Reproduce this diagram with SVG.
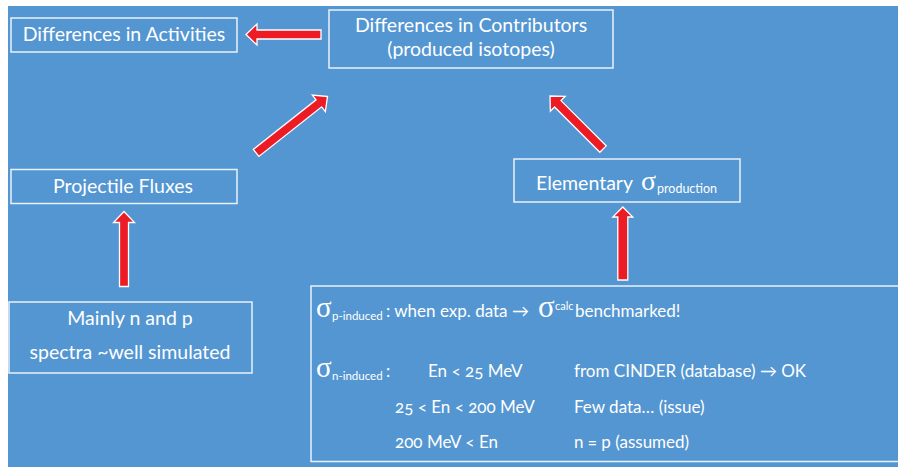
<svg xmlns="http://www.w3.org/2000/svg" width="898" height="467" viewBox="0 0 898 467">
<style>
.bg{fill:#5496D1}
.box{fill:none;stroke:#E8F1FA;stroke-width:1.5}
.t{font-family:Lato,"Open Sans","Liberation Sans",sans-serif;fill:#FFFFFF;font-size:19.5px;font-variant-numeric:oldstyle-nums;font-feature-settings:"onum" 1}
.s{font-family:Lato,"Open Sans","Liberation Sans",sans-serif;fill:#FFFFFF;font-size:17px;font-variant-numeric:oldstyle-nums;font-feature-settings:"onum" 1}
.sig{font-family:"Liberation Serif","DejaVu Serif",serif;font-size:29px}
.sub{font-size:11.5px}
.arrow{fill:#ED1C24;stroke:#FFFFFF;stroke-width:1.3;stroke-linejoin:miter}
</style>
<rect class="bg" x="8" y="6" width="890" height="461"/>

<g id="connectors">
<polygon class="arrow" transform="translate(246,34.5) rotate(180)" points="0,0 -11,-10.5 -11,-4.5 -75,-4.5 -75,4.5 -11,4.5 -11,10.5"/>
<polygon class="arrow" transform="translate(327.5,96.5) rotate(-38.3)" points="0,0 -11,-10.5 -11,-4.5 -91,-4.5 -91,4.5 -11,4.5 -11,10.5"/>
<polygon class="arrow" transform="translate(550,96) rotate(-135)" points="0,0 -11,-10.5 -11,-4.5 -75,-4.5 -75,4.5 -11,4.5 -11,10.5"/>
<polygon class="arrow" transform="translate(124,211.5) rotate(-90)" points="0,0 -11,-10.5 -11,-4.5 -75,-4.5 -75,4.5 -11,4.5 -11,10.5"/>
<polygon class="arrow" transform="translate(622.8,207) rotate(-90)" points="0,0 -10,-10 -10,-5 -73,-5 -73,5 -10,5 -10,10"/>
</g>

<g id="activities">
<rect class="box" x="11" y="18" width="226" height="34"/>
<text class="t" x="124" y="40.5" text-anchor="middle">Differences in Activities</text>
</g>

<g id="contributors">
<rect class="box" x="329" y="10" width="284" height="58"/>
<text class="t" x="471" y="32" text-anchor="middle">Differences in Contributors</text>
<text class="t" x="471" y="56" text-anchor="middle">(produced isotopes)</text>
</g>

<g id="fluxes">
<rect class="box" x="11" y="169.5" width="226" height="34"/>
<text class="t" x="123" y="192.5" text-anchor="middle">Projectile Fluxes</text>
</g>

<g id="elementary">
<rect class="box" x="514" y="159" width="226" height="43"/>
<text class="t" x="536" y="190">Elementary</text>
<text class="t" x="641" y="190"><tspan class="sig" style="font-size:28px">σ</tspan><tspan class="sub" x="657" dy="3" style="font-size:12.5px">production</tspan></text>
</g>

<g id="spectra">
<rect class="box" x="9" y="302" width="243" height="71"/>
<text class="t" x="130" y="324.5" text-anchor="middle">Mainly n and p</text>
<text class="t" x="130" y="359" text-anchor="middle">spectra ~well simulated</text>
</g>

<g id="cross-sections">
<rect class="box" x="311" y="286" width="600" height="175.5"/>
<text class="s" x="316" y="316.5"><tspan class="sig">σ</tspan><tspan class="sub" x="332" dy="3">p-induced</tspan></text>
<text class="s" x="386" y="316.5">: when exp. data →</text>
<text class="s" x="538" y="316.5"><tspan class="sig" style="font-size:31px">σ</tspan><tspan class="sub" x="555" dy="-7" style="font-size:11px">calc</tspan><tspan x="575" dy="7">benchmarked!</tspan></text>
<text class="s" x="316" y="376.5"><tspan class="sig">σ</tspan><tspan class="sub" x="332" dy="3">n-induced</tspan></text>
<text class="s" x="386" y="376.5">:</text>
<text class="s" x="428" y="376.5">En &lt; 25 MeV</text>
<text class="s" x="574" y="376.5">from CINDER (database) → OK</text>
<text class="s" x="395" y="412.5">25 &lt; En &lt; 200 MeV</text>
<text class="s" x="574" y="412.5">Few data… (issue)</text>
<text class="s" x="395" y="448">200 MeV &lt; En</text>
<text class="s" x="574" y="448">n = p (assumed)</text>
</g>
</svg>
